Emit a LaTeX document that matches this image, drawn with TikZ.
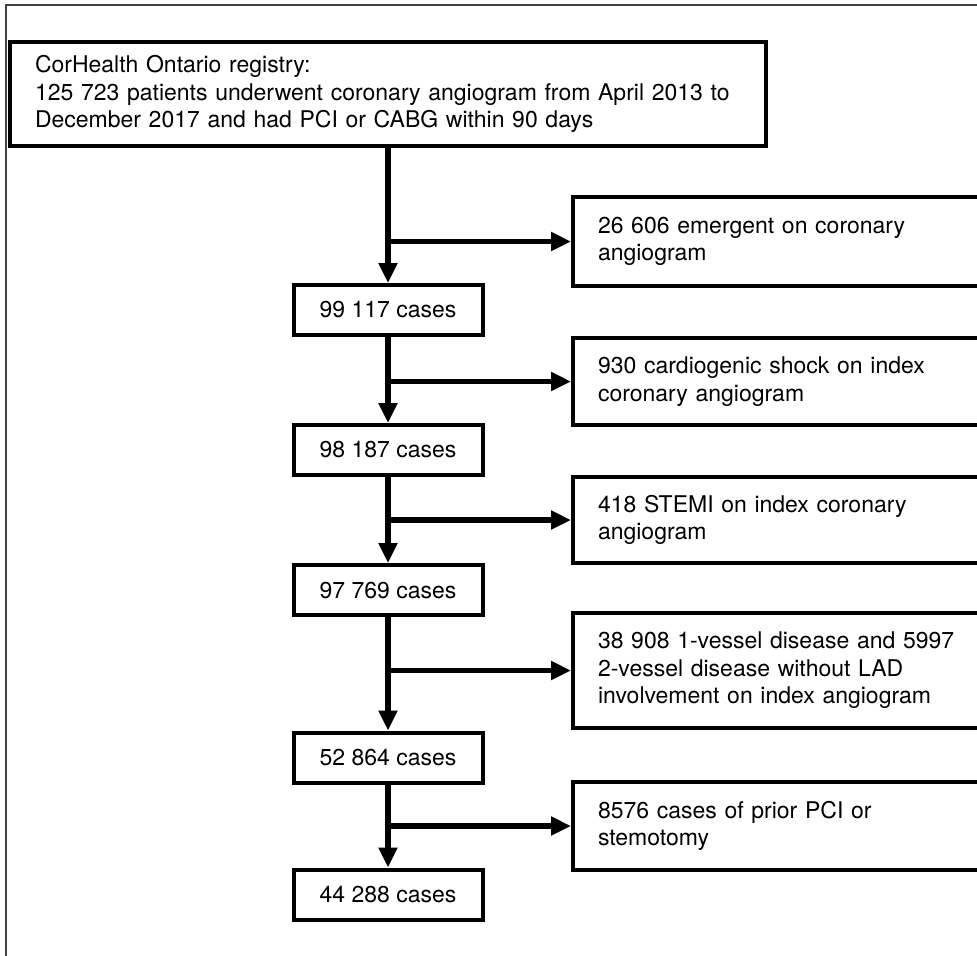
\documentclass[tikz,border=0pt]{standalone}
\usepackage{fontspec}
\setmainfont{TeX Gyre Heros}
\usetikzlibrary{arrows.meta}

\begin{document}
\begin{tikzpicture}[x=0.5pt,y=-0.5pt,
  font=\fontsize{11.5}{13.7}\selectfont,
  casebox/.style={draw,line width=2pt,inner sep=0pt,minimum width=94.5pt,minimum height=25pt},
  sidebox/.style={draw,line width=2pt,inner xsep=12.5pt,text width=188.5pt,align=left},
  flow/.style={line width=2.75pt,-{Triangle[length=10pt,width=9pt]}}]
\useasboundingbox (0,0) rectangle (977,955);
\draw[line width=0.75pt,black!75] (6,5) rectangle (1200,1200);
\node[draw,line width=2pt,inner xsep=12.5pt,text width=353pt,align=left,minimum height=52pt] (reg) at (388,94)
  {CorHealth Ontario registry:\\125 723 patients underwent coronary angiogram from April 2013 to\\December 2017 and had PCI or CABG within 90 days};
\node[casebox] (c1) at (388,310){99 117 cases};
\node[casebox] (c2) at (388,450){98 187 cases};
\node[casebox] (c3) at (388,590){97 769 cases};
\node[casebox] (c4) at (388,757.5){52 864 cases};
\node[casebox] (c5) at (388,894.5){44 288 cases};
\node[sidebox,minimum height=44.5pt] (x1) at (786.5,241.5){26 606 emergent on coronary\\angiogram};
\node[sidebox,minimum height=43.5pt] (x2) at (786.5,381.5){930 cardiogenic shock on index\\coronary angiogram};
\node[sidebox,minimum height=43pt] (x3) at (786.5,520){418 STEMI on index coronary\\angiogram};
\node[sidebox,minimum height=57.5pt] (x4) at (786.5,670.5){38 908 1-vessel disease and 5997\\2-vessel disease without LAD\\involvement on index angiogram};
\node[sidebox,minimum height=44pt] (x5) at (786.5,826){8576 cases of prior PCI or\\stemotomy};
% main flow
\draw[flow] (reg.south) -- (c1.north);
\draw[flow] (c1.south) -- (c2.north);
\draw[flow] (c2.south) -- (c3.north);
\draw[flow] (c3.south) -- (c4.north);
\draw[flow] (c4.south) -- (c5.north);
% exclusions
\coordinate (j1) at (reg.south |- x1.west);
\coordinate (j2) at (c1.south |- x2.west);
\coordinate (j3) at (c2.south |- x3.west);
\coordinate (j4) at (c3.south |- x4.west);
\coordinate (j5) at (c4.south |- x5.west);
\draw[flow] (j1) -- (x1.west);
\draw[flow] (j2) -- (x2.west);
\draw[flow] (j3) -- (x3.west);
\draw[flow] (j4) -- (x4.west);
\draw[flow] (j5) -- (x5.west);
\end{tikzpicture}
\end{document}
